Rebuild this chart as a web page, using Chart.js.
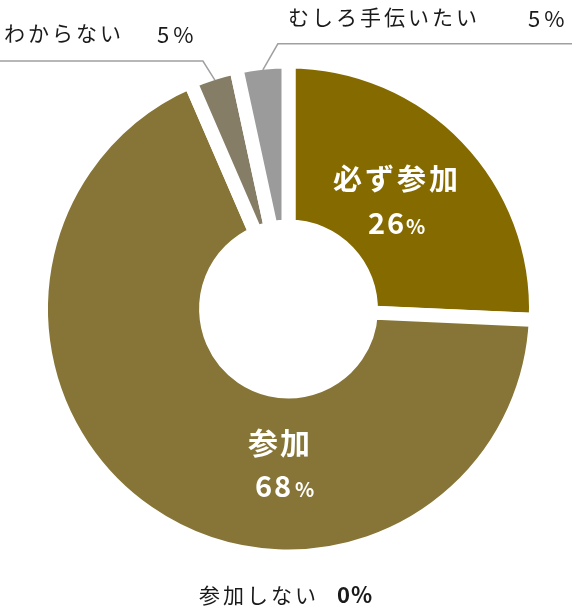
<!DOCTYPE html>
<html>
<head>
<meta charset="utf-8">
<script src="https://cdn.jsdelivr.net/npm/chart.js@4.4.1/dist/chart.umd.min.js"></script>
<style>
  html, body { margin: 0; padding: 0; background: #fff; }
  canvas { display: block; }
</style>
</head>
<body>
<canvas id="donut" width="572" height="610"></canvas>
<script>
// 回答の内訳（円弧の角度から読んだ値）
const categories = ["必ず参加", "参加", "参加しない", "わからない", "むしろ手伝いたい"];
const values = [25.7, 67.8, 0, 3.1, 3.4];
// 図に書かれている割合の表示
const percentText = ["26", "68", "0", "5", "5"];
const colors = ["#856a00", "#867536", "#b0b0b0", "#857d66", "#9b9b9b"];

const FONT = '"Noto Sans CJK JP", "Noto Sans", sans-serif';
const GAP = 14;

function txt(ctx, s, x, y, size, weight, color, spacing) {
  ctx.font = weight + " " + size + "px " + FONT;
  ctx.fillStyle = color;
  ctx.letterSpacing = (spacing || 0) + "px";
  ctx.fillText(s, x, y);
}

// ラベルと引き出し線
const labelPlugin = {
  id: "donutLabels",
  afterDraw(chart) {
    const ctx = chart.ctx;
    const arcs = chart.getDatasetMeta(0).data;
    const cx = arcs[0].x, cy = arcs[0].y;
    const rVis = arcs[0].outerRadius - GAP / 2;
    ctx.save();
    ctx.textAlign = "left";

    // 引き出し線
    ctx.strokeStyle = "#a0a0a0";
    ctx.lineWidth = 1.5;
    const edge = (i) => {
      const a = arcs[i];
      const mid = (a.startAngle + a.endAngle) / 2;
      return [cx + Math.cos(mid) * rVis, cy + Math.sin(mid) * rVis];
    };
    let [x3, y3] = edge(3);
    ctx.beginPath();
    ctx.moveTo(x3, y3);
    ctx.lineTo(x3 - 12, y3 - 19);
    ctx.lineTo(0, y3 - 19);
    ctx.stroke();
    let [x4, y4] = edge(4);
    ctx.beginPath();
    ctx.moveTo(x4, y4);
    ctx.lineTo(x4 + 15, y4 - 26);
    ctx.lineTo(572, y4 - 26);
    ctx.stroke();

    // 円の中のラベル
    ctx.textBaseline = "alphabetic";
    txt(ctx, categories[0], cx + 44.5, cy - 119, 29, "bold", "#fff", 3);
    txt(ctx, percentText[0], cx + 79.5, cy - 75, 29, "bold", "#fff", 2);
    txt(ctx, "%", cx + 117.5, cy - 75, 20, "bold", "#fff", 0);
    txt(ctx, categories[1], cx - 40.5, cy + 145, 30, "bold", "#fff", 2);
    txt(ctx, percentText[1], cx - 33.5, cy + 188, 29, "bold", "#fff", 2);
    txt(ctx, "%", cx + 6.5, cy + 188, 20, "bold", "#fff", 0);

    // 外側のラベル
    txt(ctx, categories[3], 4, 41, 21, "normal", "#1a1a1a", 3);
    txt(ctx, percentText[3] + "%", 157, 43, 22, "normal", "#1a1a1a", 4);
    txt(ctx, categories[4], 288, 25, 21, "normal", "#1a1a1a", 3);
    txt(ctx, percentText[4] + "%", 528, 27, 22, "normal", "#1a1a1a", 4);
    txt(ctx, categories[2], 199, 603, 21, "normal", "#1a1a1a", 3);
    txt(ctx, percentText[2] + "%", 337, 603, 22, "bold", "#1a1a1a", 1);
    ctx.restore();
  }
};

new Chart(document.getElementById("donut").getContext("2d"), {
  type: "doughnut",
  data: {
    labels: categories,
    datasets: [
      {
        data: values,
        backgroundColor: colors,
        borderColor: "#ffffff",
        borderWidth: GAP,
        borderJoinStyle: "miter",
      },
    ],
  },
  options: {
    responsive: false,
    animation: false,
    cutout: "33.3%",
    layout: { padding: { left: 34, right: 29, top: 54.5, bottom: 46.5 } },
    plugins: { legend: { display: false }, tooltip: { enabled: false } },
  },
  plugins: [labelPlugin],
});
</script>
</body>
</html>
